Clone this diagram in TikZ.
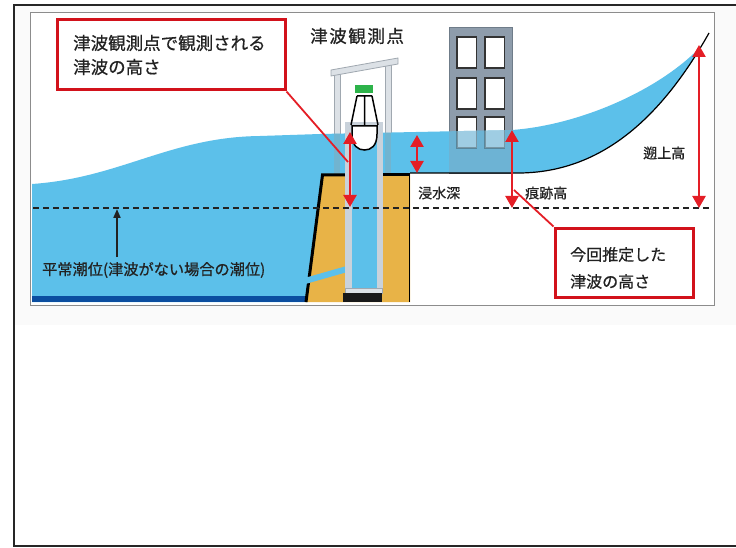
\documentclass[tikz,border=0pt]{standalone}
\usepackage{fontspec}
\setmainfont[FakeBold=0.7]{Noto Sans CJK JP}
\newfontfamily\jpwide[LetterSpace=9,FakeBold=0.7]{Noto Sans CJK JP}
\usetikzlibrary{arrows.meta}

\definecolor{seablue}{HTML}{5CC0EA}
\definecolor{deepblue}{HTML}{0B4EA0}
\definecolor{wallsand}{HTML}{E8B347}
\definecolor{bldgray}{HTML}{8E9CAB}
\definecolor{bldedge}{HTML}{6F7C89}
\definecolor{postgray}{HTML}{DCE1E6}
\definecolor{postedge}{HTML}{A0A8B0}
\definecolor{tubewall}{HTML}{C9D2DB}
\definecolor{markred}{HTML}{E41E26}
\definecolor{boxred}{HTML}{D2121B}
\definecolor{capgreen}{HTML}{2DB34A}
\definecolor{inkgray}{HTML}{222222}

% outline of the flood water, from the open sea up the slope
\def\WaterPath{(32,184) .. controls (120,178) and (170,137) .. (260,136)
  -- (320,134) -- (512,130) .. controls (580,125) and (660,90) .. (701.5,45.8)
  .. controls (654,125.1) and (596,172) .. (520,173) -- (410,173)
  -- (323,175) -- (307,302) -- (32,302) -- cycle}

\tikzset{
  water/.style={fill=seablue},
  redbox/.style={draw=boxred, line width=3pt, fill=white, inner sep=0pt},
  levelarrow/.style={draw=markred, line width=2.3pt,
    {Triangle[width=13pt,length=12pt]}-{Triangle[width=13pt,length=12pt]}},
  pointer/.style={draw=markred, line width=1.8pt},
  tag/.style={inner sep=0pt, text=inkgray, font=\fontsize{14}{16}\selectfont},
  window/.style={fill=white, draw=black!80, line width=1.8pt},
  post/.style={fill=postgray, draw=postedge, line width=0.8pt},
}

\begin{document}
\begin{tikzpicture}[x=1pt,y=-1pt]
\useasboundingbox (0,0) rectangle (736,548);

% sheet, outer frame and inner panel
\fill[white] (0,0) rectangle (736,548);
\fill[black!2] (15,6) rectangle (736,325);
\draw[black!85, line width=2.6pt] (736,5) -- (14,5) -- (14,546) -- (736,546);
\draw[fill=white, draw=black!45, line width=1pt] (30,13) rectangle (714,305);

% building
\fill[bldgray, draw=bldedge, line width=0.6pt] (449,27) rectangle (512,173);
\foreach \wx/\wy in {457/37,485/37,457/78,485/78,457/117,485/117}
  \draw[window] (\wx,\wy) rectangle ++(19.5,31);

% gauge frame posts and top beam
\draw[post] (334,72) rectangle (340,175);
\draw[post] (385,61) rectangle (391,175);
\draw[post] (331,70) -- (398,58) -- (398,64) -- (331,76) -- cycle;

% flood water
\fill[water] \WaterPath;

% submerged parts seen through the water
\begin{scope}
  \clip \WaterPath;
  \begin{scope}[opacity=0.35]
    \fill[bldgray] (449,27) rectangle (512,173);
    \foreach \wx/\wy in {457/37,485/37,457/78,485/78,457/117,485/117}
      \draw[window] (\wx,\wy) rectangle ++(19.5,31);
    \fill[postgray!70!black] (334,72) rectangle (340,175);
    \fill[postgray!70!black] (385,61) rectangle (391,175);
  \end{scope}
\end{scope}

% sea bed strip
\fill[deepblue] (32,296) rectangle (307,302);

% seawall
\fill[wallsand] (305,302) -- (322,174) -- (410,174) -- (410,302) -- cycle;
\draw[black, line width=3pt] (306,302) -- (322.5,175) -- (346,175);
\draw[black, line width=3pt] (380,174.5) -- (410,174.5);
\draw[black, line width=1.3pt] (409.5,174) -- (409.5,302);

% ground line of the land
\draw[black, line width=1.2pt] (410,173) -- (520,173)
  .. controls (600,172) and (660,120) .. (709,33);

% intake pipe from the sea into the well
\draw[seablue, line width=6pt] (298,283) -- (354,267);

% stilling well
\fill[tubewall] (345,122) rectangle (383,293);
\fill[seablue] (352,127) rectangle (377,289);
\fill[postgray, draw=postedge, line width=0.6pt] (345,288) rectangle (382,293);
\fill[black!90] (343,293) rectangle (382,302);

% float gauge
\fill[capgreen] (355,85) rectangle (373,93);
\draw[black, line width=1.5pt] (357,96) -- (372,96)
  (357,96) -- (351,125) (372,96) -- (378,125) (364.5,96) -- (364.5,126);
\draw[black, line width=1.5pt, fill=white] (352,126) -- (377,126) -- (377,134)
  .. controls (377,146) and (371,150) .. (364.5,150)
  .. controls (358,150) and (352,146) .. (352,134) -- cycle;

% normal tide level
\draw[inkgray, line width=1.4pt, dash pattern=on 6pt off 4pt] (33,208) -- (711,208);

% measured heights
\coordinate (wellTop) at (350,132);
\coordinate (wellBot) at (350,207);
\coordinate (depthTop) at (417,135);
\coordinate (depthBot) at (417,173);
\coordinate (markTop) at (512,130);
\coordinate (markBot) at (512,208);
\coordinate (runTop) at (699,45);
\coordinate (runBot) at (699,208);
\draw[levelarrow] (wellTop) -- (wellBot);
\draw[levelarrow] (depthTop) -- (depthBot);
\draw[levelarrow] (markTop) -- (markBot);
\draw[levelarrow] (runTop) -- (runBot);

% tide level pointer
\coordinate (tideTip) at (117,209);
\coordinate (tideTail) at (117,257);
\draw[inkgray, line width=2pt, -{Triangle[width=7pt,length=9pt]}] (tideTail) -- (tideTip);

% labels
\node[tag, anchor=west, font=\fontsize{15.2}{17}\selectfont] (tideLbl) at (42,270)
  {平常潮位(津波がない場合の潮位)};
\node[tag, anchor=west] (depthLbl) at (418,193) {浸水深};
\node[tag, anchor=west] (markLbl) at (525,193) {痕跡高};
\node[tag, anchor=west] (runLbl) at (643,153) {遡上高};
\node[inner sep=0pt, text=inkgray, anchor=west] (stationLbl) at (310,36)
  {\jpwide\fontsize{17.5}{20}\selectfont 津波観測点};

% callout boxes
\node[redbox, minimum width=228pt, minimum height=70pt] (box1) at (171,55) {};
\node[inner sep=0pt, anchor=west, align=left, text=inkgray,
  font=\fontsize{17.5}{24}\selectfont] (box1txt) at (73,55)
  {津波観測点で観測される\\津波の高さ};
\coordinate (wellLink) at (348,162);
\draw[pointer] (box1.south east) -- (wellLink);

\node[redbox, minimum width=138pt, minimum height=69pt] (box2) at (624,262.5) {};
\node[inner sep=0pt, anchor=west, align=left, text=inkgray,
  font=\fontsize{16}{27}\selectfont] (box2txt) at (570,268)
  {今回推定した\\津波の高さ};
\coordinate (markLink) at (514,190);
\draw[pointer] (box2.north west) -- (markLink);
\end{tikzpicture}
\end{document}
